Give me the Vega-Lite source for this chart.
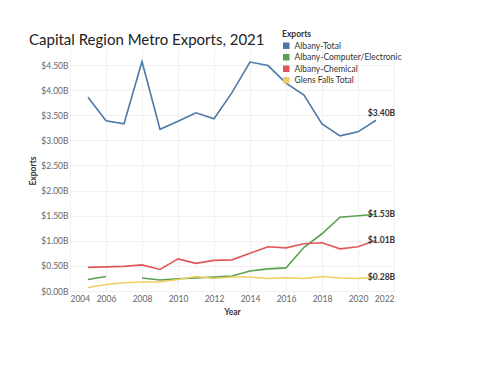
{
  "$schema": "https://vega.github.io/schema/vega-lite/v6.json",
  "width": 324,
  "height": 241,
  "autosize": {"type": "none"},
  "padding": {"left": 70, "top": 50, "right": 103, "bottom": 93},
  "background": "white",
  "title": {
    "text": "Capital Region Metro Exports, 2021",
    "anchor": "start",
    "frame": "group",
    "dx": -41,
    "dy": 22,
    "fontSize": 15,
    "font": "Lato",
    "fontWeight": "normal",
    "color": "#222222"
  },
  "config": {
    "view": {"stroke": null},
    "font": "Lato",
    "axis": {
      "labelFont": "Lato",
      "labelFontSize": 8.5,
      "labelColor": "#666666",
      "titleFont": "Lato",
      "titleFontSize": 8.5,
      "titleFontWeight": "bold",
      "titleColor": "#333333",
      "gridColor": "#f0f0f0",
      "domain": false,
      "ticks": false
    }
  },
  "data": {
    "values": [
      {"year": 2005, "series": "Albany-Total", "value": 3.86},
      {"year": 2006, "series": "Albany-Total", "value": 3.39},
      {"year": 2007, "series": "Albany-Total", "value": 3.33},
      {"year": 2008, "series": "Albany-Total", "value": 4.57},
      {"year": 2009, "series": "Albany-Total", "value": 3.22},
      {"year": 2010, "series": "Albany-Total", "value": 3.38},
      {"year": 2011, "series": "Albany-Total", "value": 3.55},
      {"year": 2012, "series": "Albany-Total", "value": 3.43},
      {"year": 2013, "series": "Albany-Total", "value": 3.95},
      {"year": 2014, "series": "Albany-Total", "value": 4.56},
      {"year": 2015, "series": "Albany-Total", "value": 4.49},
      {"year": 2016, "series": "Albany-Total", "value": 4.14},
      {"year": 2017, "series": "Albany-Total", "value": 3.9},
      {"year": 2018, "series": "Albany-Total", "value": 3.33},
      {"year": 2019, "series": "Albany-Total", "value": 3.09},
      {"year": 2020, "series": "Albany-Total", "value": 3.17},
      {"year": 2021, "series": "Albany-Total", "value": 3.4},
      {"year": 2005, "series": "Albany-Computer/Electronic", "value": 0.23},
      {"year": 2006, "series": "Albany-Computer/Electronic", "value": 0.29},
      {"year": 2007, "series": "Albany-Computer/Electronic", "value": null},
      {"year": 2008, "series": "Albany-Computer/Electronic", "value": 0.26},
      {"year": 2009, "series": "Albany-Computer/Electronic", "value": 0.22},
      {"year": 2010, "series": "Albany-Computer/Electronic", "value": 0.245},
      {"year": 2011, "series": "Albany-Computer/Electronic", "value": 0.26},
      {"year": 2012, "series": "Albany-Computer/Electronic", "value": 0.28},
      {"year": 2013, "series": "Albany-Computer/Electronic", "value": 0.3},
      {"year": 2014, "series": "Albany-Computer/Electronic", "value": 0.4},
      {"year": 2015, "series": "Albany-Computer/Electronic", "value": 0.44},
      {"year": 2016, "series": "Albany-Computer/Electronic", "value": 0.46},
      {"year": 2017, "series": "Albany-Computer/Electronic", "value": 0.87},
      {"year": 2018, "series": "Albany-Computer/Electronic", "value": 1.14},
      {"year": 2019, "series": "Albany-Computer/Electronic", "value": 1.47},
      {"year": 2020, "series": "Albany-Computer/Electronic", "value": 1.5},
      {"year": 2021, "series": "Albany-Computer/Electronic", "value": 1.53},
      {"year": 2005, "series": "Albany-Chemical", "value": 0.47},
      {"year": 2006, "series": "Albany-Chemical", "value": 0.48},
      {"year": 2007, "series": "Albany-Chemical", "value": 0.49},
      {"year": 2008, "series": "Albany-Chemical", "value": 0.52},
      {"year": 2009, "series": "Albany-Chemical", "value": 0.43},
      {"year": 2010, "series": "Albany-Chemical", "value": 0.64},
      {"year": 2011, "series": "Albany-Chemical", "value": 0.55},
      {"year": 2012, "series": "Albany-Chemical", "value": 0.61},
      {"year": 2013, "series": "Albany-Chemical", "value": 0.62},
      {"year": 2014, "series": "Albany-Chemical", "value": 0.75},
      {"year": 2015, "series": "Albany-Chemical", "value": 0.88},
      {"year": 2016, "series": "Albany-Chemical", "value": 0.86},
      {"year": 2017, "series": "Albany-Chemical", "value": 0.94},
      {"year": 2018, "series": "Albany-Chemical", "value": 0.96},
      {"year": 2019, "series": "Albany-Chemical", "value": 0.84},
      {"year": 2020, "series": "Albany-Chemical", "value": 0.88},
      {"year": 2021, "series": "Albany-Chemical", "value": 1.01},
      {"year": 2005, "series": "Glens Falls Total", "value": 0.07},
      {"year": 2006, "series": "Glens Falls Total", "value": 0.13},
      {"year": 2007, "series": "Glens Falls Total", "value": 0.165},
      {"year": 2008, "series": "Glens Falls Total", "value": 0.18},
      {"year": 2009, "series": "Glens Falls Total", "value": 0.18},
      {"year": 2010, "series": "Glens Falls Total", "value": 0.23},
      {"year": 2011, "series": "Glens Falls Total", "value": 0.29},
      {"year": 2012, "series": "Glens Falls Total", "value": 0.25},
      {"year": 2013, "series": "Glens Falls Total", "value": 0.28},
      {"year": 2014, "series": "Glens Falls Total", "value": 0.28},
      {"year": 2015, "series": "Glens Falls Total", "value": 0.25},
      {"year": 2016, "series": "Glens Falls Total", "value": 0.265},
      {"year": 2017, "series": "Glens Falls Total", "value": 0.25},
      {"year": 2018, "series": "Glens Falls Total", "value": 0.29},
      {"year": 2019, "series": "Glens Falls Total", "value": 0.26},
      {"year": 2020, "series": "Glens Falls Total", "value": 0.25},
      {"year": 2021, "series": "Glens Falls Total", "value": 0.28}
    ]
  },
  "encoding": {
    "x": {
      "field": "year",
      "type": "quantitative",
      "title": "Year",
      "scale": {"domain": [2004, 2022], "nice": false},
      "axis": {
        "values": [2004, 2006, 2008, 2010, 2012, 2014, 2016, 2018, 2020, 2022],
        "format": "d",
        "labelFlush": true,
        "labelPadding": 3,
        "titlePadding": 5
      }
    },
    "y": {
      "field": "value",
      "type": "quantitative",
      "title": "Exports",
      "scale": {"domain": [0, 4.8], "nice": false},
      "axis": {
        "values": [0, 0.5, 1, 1.5, 2, 2.5, 3, 3.5, 4, 4.5],
        "labelExpr": "'$' + format(datum.value, '.2f') + 'B'",
        "labelPadding": 2,
        "titlePadding": 3
      }
    }
  },
  "layer": [
    {
      "mark": {"type": "line", "strokeWidth": 1.6, "invalid": "break-paths-show-domains"},
      "encoding": {
        "color": {
          "field": "series",
          "type": "nominal",
          "title": "Exports",
          "scale": {
            "domain": ["Albany-Total", "Albany-Computer/Electronic", "Albany-Chemical", "Glens Falls Total"],
            "range": ["#4e79a7", "#59a14f", "#e15759", "#f1ce63"]
          },
          "legend": {
            "orient": "none",
            "legendX": 212,
            "legendY": -20,
            "symbolType": "square",
            "symbolSize": 42,
            "symbolStrokeWidth": 0,
            "symbolOpacity": 1,
            "titleFontSize": 8.5,
            "titleFont": "Lato",
            "titleFontWeight": "bold",
            "titleColor": "#333333",
            "labelFontSize": 8.5,
            "labelFont": "Lato",
            "labelColor": "#333333",
            "rowPadding": 2.5,
            "titlePadding": 3,
            "labelOffset": 4,
            "encode": {
              "symbols": {
                "update": {
                  "fill": {"scale": "color", "field": "value"},
                  "strokeWidth": {"value": 0}
                }
              }
            }
          }
        }
      }
    },
    {
      "transform": [
        {"filter": "datum.year == 2021 && datum.series != 'Albany-Total'"},
        {"calculate": "'$' + format(datum.value, '.2f') + 'B'", "as": "label"}
      ],
      "mark": {"type": "text", "align": "center", "baseline": "middle", "dx": 5.5, "fontSize": 8.5, "font": "Lato", "fontWeight": "bold", "color": "#333333"},
      "encoding": {"text": {"field": "label"}}
    },
    {
      "transform": [
        {"filter": "datum.year == 2021 && datum.series == 'Albany-Total'"},
        {"calculate": "'$' + format(datum.value, '.2f') + 'B'", "as": "label"}
      ],
      "mark": {"type": "text", "align": "center", "baseline": "middle", "dx": 5.5, "dy": -7, "fontSize": 8.5, "font": "Lato", "fontWeight": "bold", "color": "#333333"},
      "encoding": {"text": {"field": "label"}}
    }
  ]
}
